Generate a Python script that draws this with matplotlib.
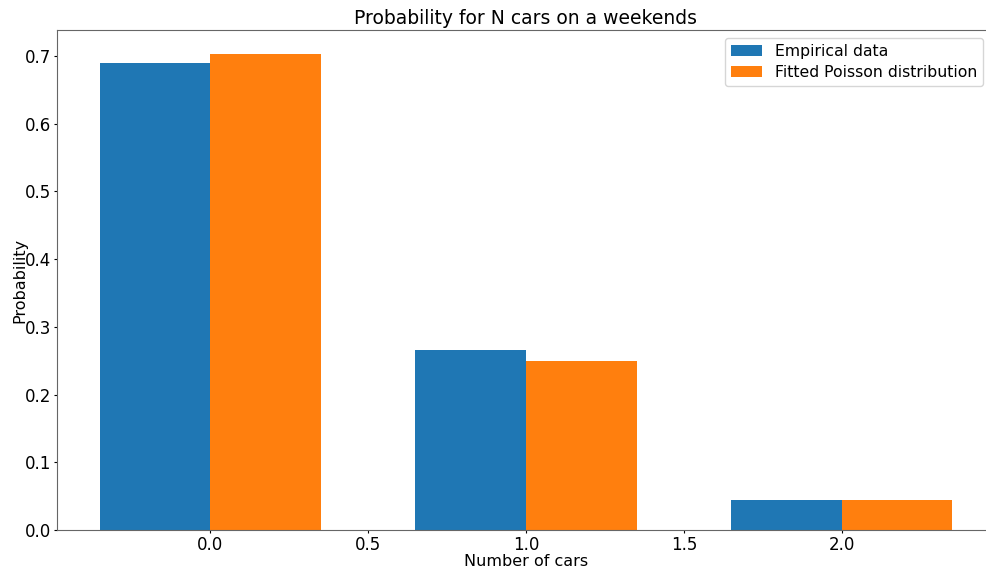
import matplotlib.pyplot as plt
import numpy as np

# number of cars observed on weekends
n_cars = [0, 1, 2]
empirical = [0.690, 0.265, 0.045]
poisson = [0.703, 0.249, 0.044]

width = 0.35
x = np.array(n_cars)

fig = plt.figure(figsize=(9.87, 5.70), dpi=100)
# axes runs a little past the right edge, like the original crop
ax = fig.add_axes([57 / 987, 40 / 570, (995 - 57) / 987, (530 - 30) / 570])

ax.bar(x - width / 2, empirical, width, label='Empirical data', color='#1f77b4')
ax.bar(x + width / 2, poisson, width, label='Fitted Poisson distribution', color='#ff7f0e')

ax.set_title('Probability for N cars on a weekends', fontsize=13.5, pad=4)
ax.set_xlabel('Number of cars', fontsize=11.5, labelpad=0)
ax.set_ylabel('Probability', fontsize=11.5, labelpad=-2)
ax.tick_params(labelsize=12, length=2, pad=2)
ax.legend(fontsize=11.3, loc='upper right', labelspacing=0.35,
          bbox_to_anchor=(0.996, 1.0))

for s in ax.spines.values():
    s.set_color('0.4')

fig.savefig('out.png', dpi=100)
